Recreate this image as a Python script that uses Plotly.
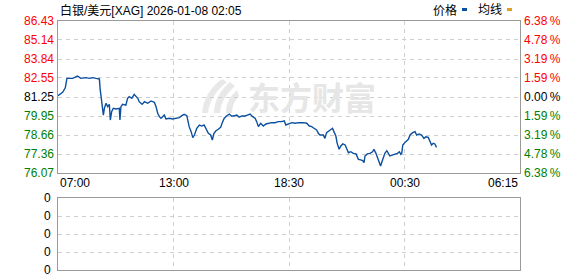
import plotly.graph_objects as go

W, H = 578, 276

# ---------------- data ----------------
minutes = [0,14,22,27,44,59,69,85,95,105,
           115,125,127,130,133,137,140,145,150,155,
           158,162,167,175,185,187,190,195,205,210,
           215,223,230,236,241,245,254,261,271,281,
           291,296,301,306,311,316,321,326,336,346,
           356,366,374,381,389,392,396,402,407,412,
           419,427,434,441,447,454,461,466,471,477,
           484,491,496,502,509,517,524,531,540,547,
           555,565,572,580,588,595,600,605,612,620,
           628,635,645,655,665,675,683,688,695,706,
           716,726,741,751,759,766,773,781,786,791,
           801,806,811,819,829,833,839,843,849,854,
           860,867,872,877,884,892,900,907,914,920,
           924,927,934,942,950,954,960,964,970,974,
           980,987,993,997,1002,1011,1018,1025,1031,1035,
           1038,1041,1045,1051,1058,1063,1071,1078,1083,1091,
           1098,1105,1111,1118,1123,1128,1133,1138,1143]
prices = [81.34,81.57,81.88,82.52,82.52,82.68,82.52,82.57,82.52,82.57,
          82.52,82.48,81.84,81.16,80.70,80.02,80.48,80.82,80.59,80.75,
          79.68,80.25,80.48,80.43,80.48,79.68,80.59,80.75,80.70,81.16,
          81.27,81.16,81.43,81.27,81.16,80.93,80.75,80.93,80.82,80.98,
          80.89,80.59,80.14,79.91,79.80,79.91,80.02,79.75,79.80,79.75,
          79.80,79.84,79.98,80.07,79.98,79.68,79.23,78.89,78.48,78.66,
          79.12,79.34,79.27,79.34,79.12,78.78,78.66,78.32,78.78,78.95,
          79.05,79.18,79.50,79.80,79.96,80.09,79.96,79.96,80.02,79.87,
          79.96,79.96,80.02,80.09,79.91,79.80,79.57,79.23,79.46,79.27,
          79.41,79.46,79.50,79.50,79.57,79.57,79.63,79.34,79.41,79.50,
          79.46,79.50,79.50,79.46,79.27,79.23,79.12,79.00,78.78,78.66,
          78.66,78.43,78.82,78.95,79.12,78.89,78.59,78.09,77.69,77.91,
          78.05,77.98,77.64,77.45,77.52,77.41,77.37,77.00,76.96,76.91,
          76.77,77.23,77.37,77.41,77.52,77.69,77.41,77.18,76.84,76.55,
          76.96,77.41,77.59,77.41,77.23,77.30,77.34,77.41,77.52,77.34,
          77.41,77.98,78.09,78.20,78.37,78.66,78.82,78.89,78.66,78.73,
          78.66,78.43,78.54,78.50,78.20,77.98,78.09,78.05,77.82]

price_ticks = [86.43, 85.14, 83.84, 82.55, 81.25, 79.95, 78.66, 77.36, 76.07]
pct_labels = ["6.38%", "4.78%", "3.19%", "1.59%", "0.00%", "1.59%", "3.19%", "4.78%", "6.38%"]
time_labels = ["07:00", "13:00", "18:30", "00:30", "06:15"]
total_minutes = 1395
vol_ticks = [0, 1, 2, 3, 4]
vol_labels = ["0", "0", "0", "0", "0"]
title_text = "白银/美元[XAG] 2026-01-08 02:05"

# ---------------- helpers ----------------
def px(x):
    return x / W

def py(y):
    return 1 - y / H

FONT = "Liberation Sans, Arial, Noto Sans CJK SC, sans-serif"
RED, BLACK, GREEN = "#ff0000", "#000000", "#008000"
LINE_BLUE = "#0b4f9f"
GRID = "#cfcfcf"
BORDER = "#9a9a9a"

time_ticks = [total_minutes * i / 4 for i in range(5)]

fig = go.Figure()
fig.add_trace(go.Scatter(x=minutes, y=prices, mode="lines",
                         line=dict(color=LINE_BLUE, width=1.4),
                         xaxis="x", yaxis="y", hoverinfo="skip"))
fig.add_trace(go.Scatter(x=[0], y=[0], mode="markers", marker=dict(opacity=0),
                         xaxis="x2", yaxis="y2", hoverinfo="skip"))

axis_common = dict(showline=True, mirror=True, linecolor=BORDER, linewidth=1,
                   showgrid=True, gridcolor=GRID, griddash="4px,4px", gridwidth=1,
                   zeroline=False, showticklabels=False, ticks="", fixedrange=True)

main_top, main_bot = 21, 173
vol_top, vol_bot = 198, 270

fig.update_layout(
    width=W, height=H, margin=dict(l=0, r=0, t=0, b=0),
    paper_bgcolor="white", plot_bgcolor="white", showlegend=False,
    xaxis=dict(domain=[px(58), px(520)], range=[0, total_minutes], anchor="y",
               tickvals=time_ticks[1:4], **axis_common),
    yaxis=dict(domain=[py(main_bot), py(main_top)], range=[price_ticks[-1], price_ticks[0]],
               anchor="x", tickvals=price_ticks[1:-1], **axis_common),
    xaxis2=dict(domain=[px(58), px(520)], range=[0, total_minutes], anchor="y2",
                tickvals=time_ticks[1:4], **axis_common),
    yaxis2=dict(domain=[py(vol_bot), py(vol_top)], range=[vol_ticks[0], vol_ticks[-1]],
                anchor="x2", tickvals=vol_ticks[1:-1], **axis_common),
)

ann = []
# left price labels & right percent labels
for i, (v, p) in enumerate(zip(price_ticks, pct_labels)):
    c = RED if i < 4 else (BLACK if i == 4 else GREEN)
    ann.append(dict(x=px(56), y=v, xref="paper", yref="y", text=v and f"{v:.2f}",
                    xanchor="right", yanchor="middle", showarrow=False,
                    font=dict(family=FONT, size=12, color=c)))
    ann.append(dict(x=px(522), y=v, xref="paper", yref="y", text=p.replace("%", "\u2009%"),
                    xanchor="left", yanchor="middle", showarrow=False,
                    font=dict(family=FONT, size=12, color=c)))
# time labels
anchors = ["left", "center", "center", "center", "right"]
for t, lab, a in zip(time_ticks, time_labels, anchors):
    ann.append(dict(x=t, y=py(183), xref="x", yref="paper", text=lab,
                    xanchor=a, yanchor="middle", showarrow=False,
                    font=dict(family=FONT, size=12, color=BLACK)))
# volume labels
for v, lab in zip(vol_ticks, vol_labels):
    ann.append(dict(x=px(53), y=v, xref="paper", yref="y2", text=lab,
                    xanchor="right", yanchor="middle", showarrow=False,
                    font=dict(family=FONT, size=12, color=BLACK)))
# header
ann.append(dict(x=px(58), y=py(10), xref="paper", yref="paper", text=title_text,
                xanchor="left", yanchor="middle", showarrow=False,
                font=dict(family=FONT, size=12, color=BLACK)))
ann.append(dict(x=px(431), y=py(10), xref="paper", yref="paper", text="价格",
                xanchor="left", yanchor="middle", showarrow=False,
                font=dict(family=FONT, size=12, color=BLACK)))
ann.append(dict(x=px(476), y=py(10), xref="paper", yref="paper", text="均线",
                xanchor="left", yanchor="middle", showarrow=False,
                font=dict(family=FONT, size=12, color=BLACK)))
# watermark text
ann.append(dict(x=px(312), y=py(96), xref="paper", yref="paper", text="<b>东方财富</b>",
                xanchor="center", yanchor="middle", showarrow=False,
                font=dict(family="Noto Sans CJK SC", size=32, color="#e6e6e6")))
fig.update_layout(annotations=ann)

shapes = []
# legend swatches
shapes.append(dict(type="rect", xref="paper", yref="paper",
                   x0=px(462), x1=px(467), y0=py(11), y1=py(8),
                   fillcolor="#0b4f9f", line=dict(width=0)))
shapes.append(dict(type="rect", xref="paper", yref="paper",
                   x0=px(507), x1=px(512), y0=py(11), y1=py(8),
                   fillcolor="#e0a020", line=dict(width=0)))

def path(points_cmds):
    out = []
    for cmd, pts in points_cmds:
        coords = " ".join(f"{px(x):.5f},{py(y):.5f}" for x, y in pts)
        out.append(f"{cmd} {coords}")
    return " ".join(out) + " Z"

blades = [
    [("M", [(222, 79)]), ("Q", [(204, 92), (202, 113)]), ("L", [(208, 113)]), ("Q", [(210, 95), (227, 82)])],
    [("M", [(230, 82)]), ("Q", [(214, 96), (214, 113)]), ("L", [(220, 113)]), ("Q", [(221, 98), (235, 86)])],
    [("M", [(237, 90)]), ("Q", [(225, 101)  , (226, 113)]), ("L", [(232, 113)]), ("Q", [(232, 103), (239, 96)])],
]
for b in blades:
    shapes.append(dict(type="path", xref="paper", yref="paper", path=path(b),
                       fillcolor="#e8e8e8", line=dict(width=0), layer="below"))
fig.update_layout(shapes=shapes)

fig.write_html("out.html")
